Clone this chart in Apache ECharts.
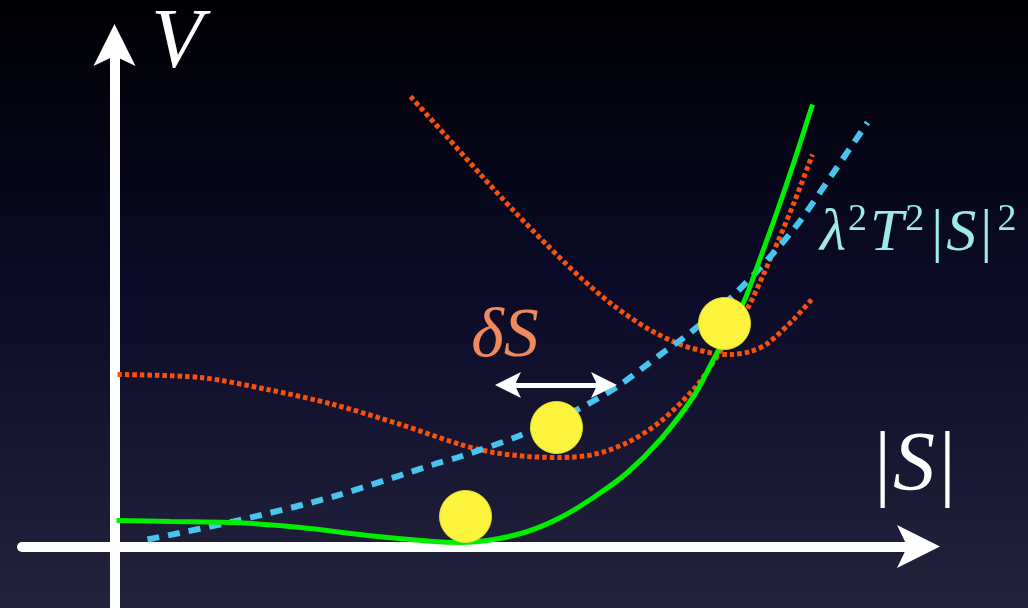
<!DOCTYPE html>
<html>
<head>
<meta charset="utf-8">
<script src="https://cdn.jsdelivr.net/npm/echarts@6/dist/echarts.min.js"></script>
<style>
  html, body { margin: 0; padding: 0; background: #000; }
  #chart { width: 1028px; height: 608px; }
</style>
</head>
<body>
<div id="chart"></div>
<script>
// ---- data (|S| on x, V on y, arbitrary units) ----
const fullPotential = [[0.02,0.26],[0.56,0.25],[1.19,0.24],[1.86,0.19],[2.53,0.11],[3.19,0.05],[3.46,0.04],[3.79,0.07],[4.13,0.15],[4.46,0.29],[4.79,0.49],[5.13,0.74],[5.46,1.07],[5.79,1.50],[5.99,1.87],[6.29,2.44],[6.46,2.89],[6.63,3.36],[6.80,3.86],[6.98,4.42]];
const thermalMass = [[0.33,0.07],[1.19,0.25],[2.19,0.50],[3.19,0.82],[3.46,0.90],[4.03,1.10],[4.63,1.37],[5.03,1.60],[5.46,1.92],[5.76,2.14],[6.23,2.55],[6.79,3.17],[7.19,3.74],[7.53,4.24]];
const effectiveLow = [[0.03,1.72],[0.86,1.69],[1.53,1.57],[2.19,1.42],[2.86,1.22],[3.46,1.02],[3.79,0.94],[4.13,0.90],[4.46,0.89],[4.79,0.92],[5.13,1.04],[5.46,1.25],[5.79,1.57],[5.96,1.80],[6.15,2.10],[6.34,2.40],[6.48,2.70],[6.63,3.04],[6.80,3.45],[6.98,3.92]];
const effectiveHigh = [[2.96,4.50],[3.33,4.09],[3.66,3.72],[3.99,3.36],[4.33,3.01],[4.66,2.69],[4.99,2.41],[5.33,2.18],[5.66,2.02],[5.99,1.93],[6.16,1.92],[6.36,1.95],[6.53,2.03],[6.79,2.27],[6.98,2.48]];
const balls = [[3.51,0.30],[4.42,1.19],[6.10,2.23]];
const deltaSArrow = [[3.935,1.615],[4.895,1.615]];
const xRange = [-0.925, 8.04];
const yRange = [-0.615, 5.015];

const arrowPath = 'path://M50,0 L100,100 L50,76 L0,100 Z';
const serif = "'Liberation Serif', 'DejaVu Serif', serif";

const chart = echarts.init(document.getElementById('chart'), null, { renderer: 'canvas' });

chart.setOption({
  animation: false,
  backgroundColor: {
    type: 'linear', x: 0, y: 0, x2: 0, y2: 1,
    colorStops: [
      { offset: 0, color: '#000003' },
      { offset: 0.45, color: '#0a0a27' },
      { offset: 1, color: '#23233d' }
    ]
  },
  grid: { left: 22, right: 109.5, top: 45, bottom: 0, outerBoundsMode: 'none' },
  xAxis: {
    type: 'value', min: xRange[0], max: xRange[1],
    axisLine: { show: true, onZero: true, lineStyle: { color: '#ffffff', width: 10 },
      symbol: ['none', arrowPath], symbolSize: [44, 43] },
    axisTick: { show: false }, axisLabel: { show: false }, splitLine: { show: false }
  },
  yAxis: {
    type: 'value', min: yRange[0], max: yRange[1],
    axisLine: { show: true, onZero: true, lineStyle: { color: '#ffffff', width: 10 },
      symbol: ['none', arrowPath], symbolSize: [42, 44] },
    axisTick: { show: false }, axisLabel: { show: false }, splitLine: { show: false }
  },
  series: [
    {
      name: 'effective high', type: 'line', data: effectiveHigh, smooth: 0.3,
      showSymbol: false, z: 3,
      lineStyle: { color: '#fb500c', width: 5, type: [4.5, 3], cap: 'butt' }
    },
    {
      name: 'effective low', type: 'line', data: effectiveLow, smooth: 0.3,
      showSymbol: false, z: 3,
      lineStyle: { color: '#fb500c', width: 5, type: [4.5, 3], cap: 'butt' }
    },
    {
      name: 'thermal mass', type: 'line', data: thermalMass, smooth: 0.3,
      showSymbol: false, z: 4,
      lineStyle: { color: '#47c5ef', width: 6, type: [12, 9], cap: 'butt' }
    },
    {
      name: 'full potential', type: 'line', data: fullPotential, smooth: 0.3,
      showSymbol: false, z: 5,
      lineStyle: { color: '#00ee00', width: 5 }
    },
    {
      name: 'delta S', type: 'lines', coordinateSystem: 'cartesian2d', z: 6,
      symbol: [arrowPath, arrowPath], symbolSize: 26,
      lineStyle: { color: '#ffffff', width: 5, opacity: 1, curveness: 0 },
      data: [{ coords: deltaSArrow }]
    },
    {
      name: 'field', type: 'scatter', data: balls, symbol: 'circle', symbolSize: 52, z: 7,
      itemStyle: { color: '#fcf43c', borderColor: '#e8de30', borderWidth: 1, opacity: 1 }
    }
  ],
  graphic: [
    {
      type: 'text', x: 177, y: 45, z: 20,
      style: { text: 'V', fill: '#ffffff', fontFamily: serif, fontStyle: 'italic', fontSize: 84,
        align: 'center', verticalAlign: 'middle' }
    },
    {
      type: 'text', x: 915, y: 468, z: 20,
      style: {
        text: '{n||}{i|S}{n||}', fill: '#ffffff', align: 'center', verticalAlign: 'middle',
        rich: {
          n: { fontFamily: serif, fontSize: 84, fill: '#ffffff', lineHeight: 90 },
          i: { fontFamily: serif, fontSize: 84, fontStyle: 'italic', fill: '#ffffff', lineHeight: 90, padding: [0, 4, 0, 2] }
        }
      }
    },
    {
      type: 'text', x: 505, y: 338, z: 20,
      style: { text: 'δS', fill: '#f08a5c', fontFamily: serif, fontStyle: 'italic', fontSize: 70,
        align: 'center', verticalAlign: 'middle' }
    },
    {
      type: 'text', x: 820, y: 234, z: 20,
      style: {
        text: '{m|λ}{s|2}{m|T}{s|2}{n||}{m|S}{n||}{s|2}', fill: '#9eeaea', align: 'left', verticalAlign: 'middle',
        rich: {
          m: { fontFamily: serif, fontStyle: 'italic', fontSize: 60, fill: '#9eeaea', lineHeight: 66 },
          n: { fontFamily: serif, fontSize: 60, fill: '#9eeaea', lineHeight: 66, padding: [0, 3, 0, 4] },
          s: { fontFamily: serif, fontSize: 38, fill: '#9eeaea', lineHeight: 36, verticalAlign: 'top', padding: [0, 3, 0, 2] }
        }
      }
    }
  ]
});
</script>
</body>
</html>
